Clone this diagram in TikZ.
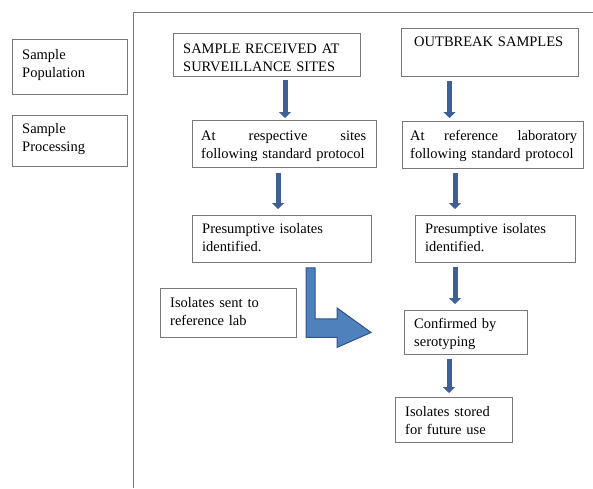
\documentclass[tikz,border=0pt]{standalone}
\usepackage{fontspec}
\setmainfont{Liberation Serif}
\usetikzlibrary{arrows.meta,calc}
\definecolor{boxgray}{RGB}{120,120,120}
\definecolor{arrowblue}{RGB}{62,96,150}
\definecolor{bigfill}{RGB}{79,129,189}
\definecolor{bigedge}{RGB}{47,82,143}
\tikzset{
  box/.style={draw=boxgray, line width=0.9pt, inner sep=0pt, anchor=north west},
  txt/.style={font=\fontsize{14.5}{18.5}\selectfont, inner sep=0pt, anchor=base west, align=left},
  sarrow/.style={draw=arrowblue, line width=5pt, -{Triangle[width=12pt,length=6pt]}},
  frame/.style={draw=boxgray, line width=0.9pt},
}
\begin{document}
\begin{tikzpicture}[x=1pt,y=-1pt]
\useasboundingbox (0,0) rectangle (593,488);
% frame lines
\coordinate (ftop) at (133,12);
\coordinate (fright) at (593,12);
\coordinate (fbot) at (133,488);
\draw[frame] (fright) -- (ftop) -- (fbot);
% left column
\node[box, minimum width=115pt, minimum height=55pt] (pop) at (12,39) {};
\node[txt, text width=100pt] (popT) at (22,59) {Sample\\Population};
\node[box, minimum width=115pt, minimum height=51pt] (proc) at (12,115) {};
\node[txt, text width=100pt] (procT) at (22,133) {Sample\\Processing};
% left flow
\node[box, minimum width=187pt, minimum height=43pt] (recv) at (173,33) {};
\node[txt, text width=175pt] (recvT) at (183,53) {SAMPLE RECEIVED AT\\SURVEILLANCE SITES};
\node[box, minimum width=184pt, minimum height=47pt] (site) at (192,120) {};
\node[txt, text width=165pt] (siteT) at (201,140) {At\hfill respective\hfill sites\\following standard protocol};
\node[box, minimum width=179pt, minimum height=47pt] (presL) at (192,215) {};
\node[txt, text width=165pt] (presLT) at (202,233) {Presumptive isolates\\identified.};
\node[box, minimum width=136pt, minimum height=49pt] (sent) at (160,288) {};
\node[txt, text width=125pt] (sentT) at (170,307) {Isolates sent to\\reference lab};
% right flow
\node[box, minimum width=177pt, minimum height=48pt] (outb) at (401,28) {};
\node[txt, text width=165pt] (outbT) at (414,46) {OUTBREAK SAMPLES};
\node[box, minimum width=181pt, minimum height=47pt] (ref) at (402,121) {};
\node[txt, text width=167pt] (refT) at (410,140) {At\hfill reference\hfill laboratory\\following standard protocol};
\node[box, minimum width=160pt, minimum height=47pt] (presR) at (415,215) {};
\node[txt, text width=150pt] (presRT) at (425,233) {Presumptive isolates\\identified.};
\node[box, minimum width=123pt, minimum height=44pt] (conf) at (404,310) {};
\node[txt, text width=110pt] (confT) at (414,328) {Confirmed by\\serotyping};
\node[box, minimum width=117pt, minimum height=45pt] (stor) at (395,397) {};
\node[txt, text width=105pt] (storT) at (405,416) {Isolates stored\\for future use};
% small arrows
\draw[sarrow] ($(recv.south west)+(112,3)$) -- ($(site.north west)+(93,-2)$);
\draw[sarrow] ($(outb.south west)+(48.5,4)$) -- ($(ref.north west)+(47.5,-3)$);
\draw[sarrow] ($(site.south west)+(86,5)$) -- ($(presL.north west)+(86,-6)$);
\draw[sarrow] ($(ref.south west)+(53,4)$) -- ($(presR.north west)+(40,-6)$);
\draw[sarrow] ($(presR.south west)+(40,4)$) -- ($(conf.north west)+(51,-6)$);
\draw[sarrow] ($(conf.south west)+(45,4)$) -- ($(stor.north west)+(54,-4)$);
% big L arrow
\coordinate (bA) at ($(presL.south west)+(114,5)$);
\coordinate (bTip) at ($(conf.west)+(-33,0)$);
\filldraw[fill=bigfill, draw=bigedge, line width=1pt, line join=miter]
  (bA) -- ++(9,0) -- ++(0,51) -- ++(22,0) -- ++(0,-11) -- (bTip) -- ++(-34,15) -- ++(0,-10) -- ++(-31,0) -- cycle;
\end{tikzpicture}
\end{document}
